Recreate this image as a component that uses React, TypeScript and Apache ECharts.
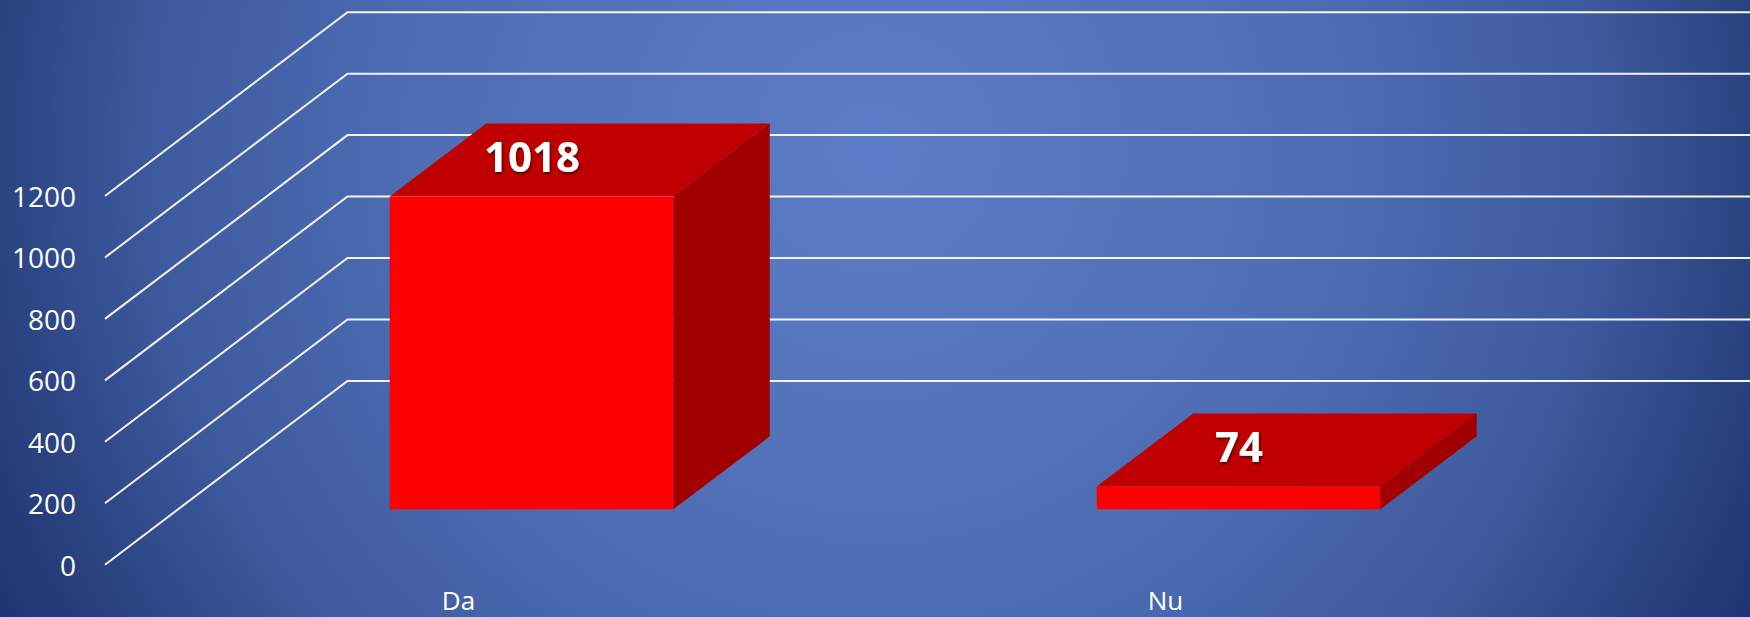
import React, { useEffect, useRef } from "react";
import * as echarts from "echarts";

const categories = ["Da", "Nu"];
const values = [1018, 74];
const yTicks = [0, 200, 400, 600, 800, 1000, 1200];

const WALL_DX = 242.5;
const WALL_DY = -183.8;
const BAR_SHIFT_X = 73;
const BAR_SHIFT_Y = -55.4;
const BAR_DEPTH_X = 96.5;
const BAR_DEPTH_Y = -73;
const BAR_RATIO = 0.401;

const FRONT = "#FF0000";
const TOP = "#C00000";
const SIDE = "#A20000";

function renderWall(params: any, api: any) {
  const x0 = params.coordSys.x;
  const y = api.coord([0, api.value(1)])[1];
  return {
    type: "polyline",
    silent: true,
    shape: {
      points: [
        [x0, y],
        [x0 + WALL_DX, y + WALL_DY],
        [1752, y + WALL_DY],
      ],
    },
    style: { stroke: "#F2F5FB", lineWidth: 2, fill: "none" },
  };
}

function renderBar(params: any, api: any) {
  const idx = api.value(0);
  const v = api.value(1);
  const topPt = api.coord([idx, v]);
  const basePt = api.coord([idx, 0]);
  const halfW = (api.size([1, 0])[0] * BAR_RATIO) / 2;
  const xl = topPt[0] - halfW + BAR_SHIFT_X;
  const xr = topPt[0] + halfW + BAR_SHIFT_X;
  const yt = topPt[1] + BAR_SHIFT_Y;
  const yb = basePt[1] + BAR_SHIFT_Y;
  const dx = BAR_DEPTH_X;
  const dy = BAR_DEPTH_Y;
  return {
    type: "group",
    children: [
      {
        type: "polygon",
        shape: { points: [[xl, yt], [xr, yt], [xr + dx, yt + dy], [xl + dx, yt + dy]] },
        style: { fill: TOP },
      },
      {
        type: "polygon",
        shape: { points: [[xr, yt], [xr + dx, yt + dy], [xr + dx, yb + dy], [xr, yb]] },
        style: { fill: SIDE },
      },
      {
        type: "rect",
        shape: { x: xl, y: yt, width: xr - xl, height: yb - yt },
        style: { fill: FRONT },
      },
      {
        type: "text",
        x: (xl + xr) / 2 + 0.5,
        y: yt - 41,
        style: {
          text: String(v),
          fill: "#FFFFFF",
          font: '700 42px "Open Sans", sans-serif',
          align: "center",
          verticalAlign: "middle",
          textShadowColor: "rgba(0,0,0,0.6)",
          textShadowBlur: 3,
          textShadowOffsetX: 1,
          textShadowOffsetY: 2,
        },
      },
    ],
  };
}

export default function App() {
  const ref = useRef<HTMLDivElement | null>(null);
  useEffect(() => {
    document.body.style.margin = "0";
    const chart = echarts.init(ref.current!, undefined, { renderer: "svg" });
    chart.setOption({
      animation: false,
      backgroundColor: {
        type: "radial",
        global: true,
        x: 875,
        y: 150,
        r: 1000,
        colorStops: [
          { offset: 0, color: "#5C7DC7" },
          { offset: 0.47, color: "#4D6CB2" },
          { offset: 0.72, color: "#3E5A9E" },
          { offset: 0.87, color: "#2B4482" },
          { offset: 1, color: "#1F3270" },
        ],
      },
      grid: { left: 105, width: 1414, top: 196, height: 368.7 },
      xAxis: {
        type: "category",
        data: categories,
        axisLine: { show: false },
        axisTick: { show: false },
        axisLabel: {
          color: "#FFFFFF",
          fontFamily: "Open Sans",
          fontSize: 26,
          margin: 22,
        },
      },
      yAxis: {
        type: "value",
        min: 0,
        max: 1200,
        interval: 200,
        splitLine: { show: false },
        axisLine: { show: false },
        axisTick: { show: false },
        axisLabel: {
          color: "#FFFFFF",
          fontFamily: "Open Sans",
          fontSize: 28,
          margin: 29,
          formatter: (v: number) => String(v),
        },
      },
      series: [
        {
          type: "custom",
          z: 1,
          silent: true,
          renderItem: renderWall,
          encode: { x: 0, y: 1 },
          data: yTicks.map((t) => [0, t]),
        },
        {
          type: "custom",
          z: 2,
          silent: true,
          renderItem: renderBar,
          encode: { x: 0, y: 1 },
          data: values.map((v, i) => [i, v]),
        },
      ],
    });
    return () => chart.dispose();
  }, []);
  return <div ref={ref} style={{ width: 1750, height: 617 }} />;
}
